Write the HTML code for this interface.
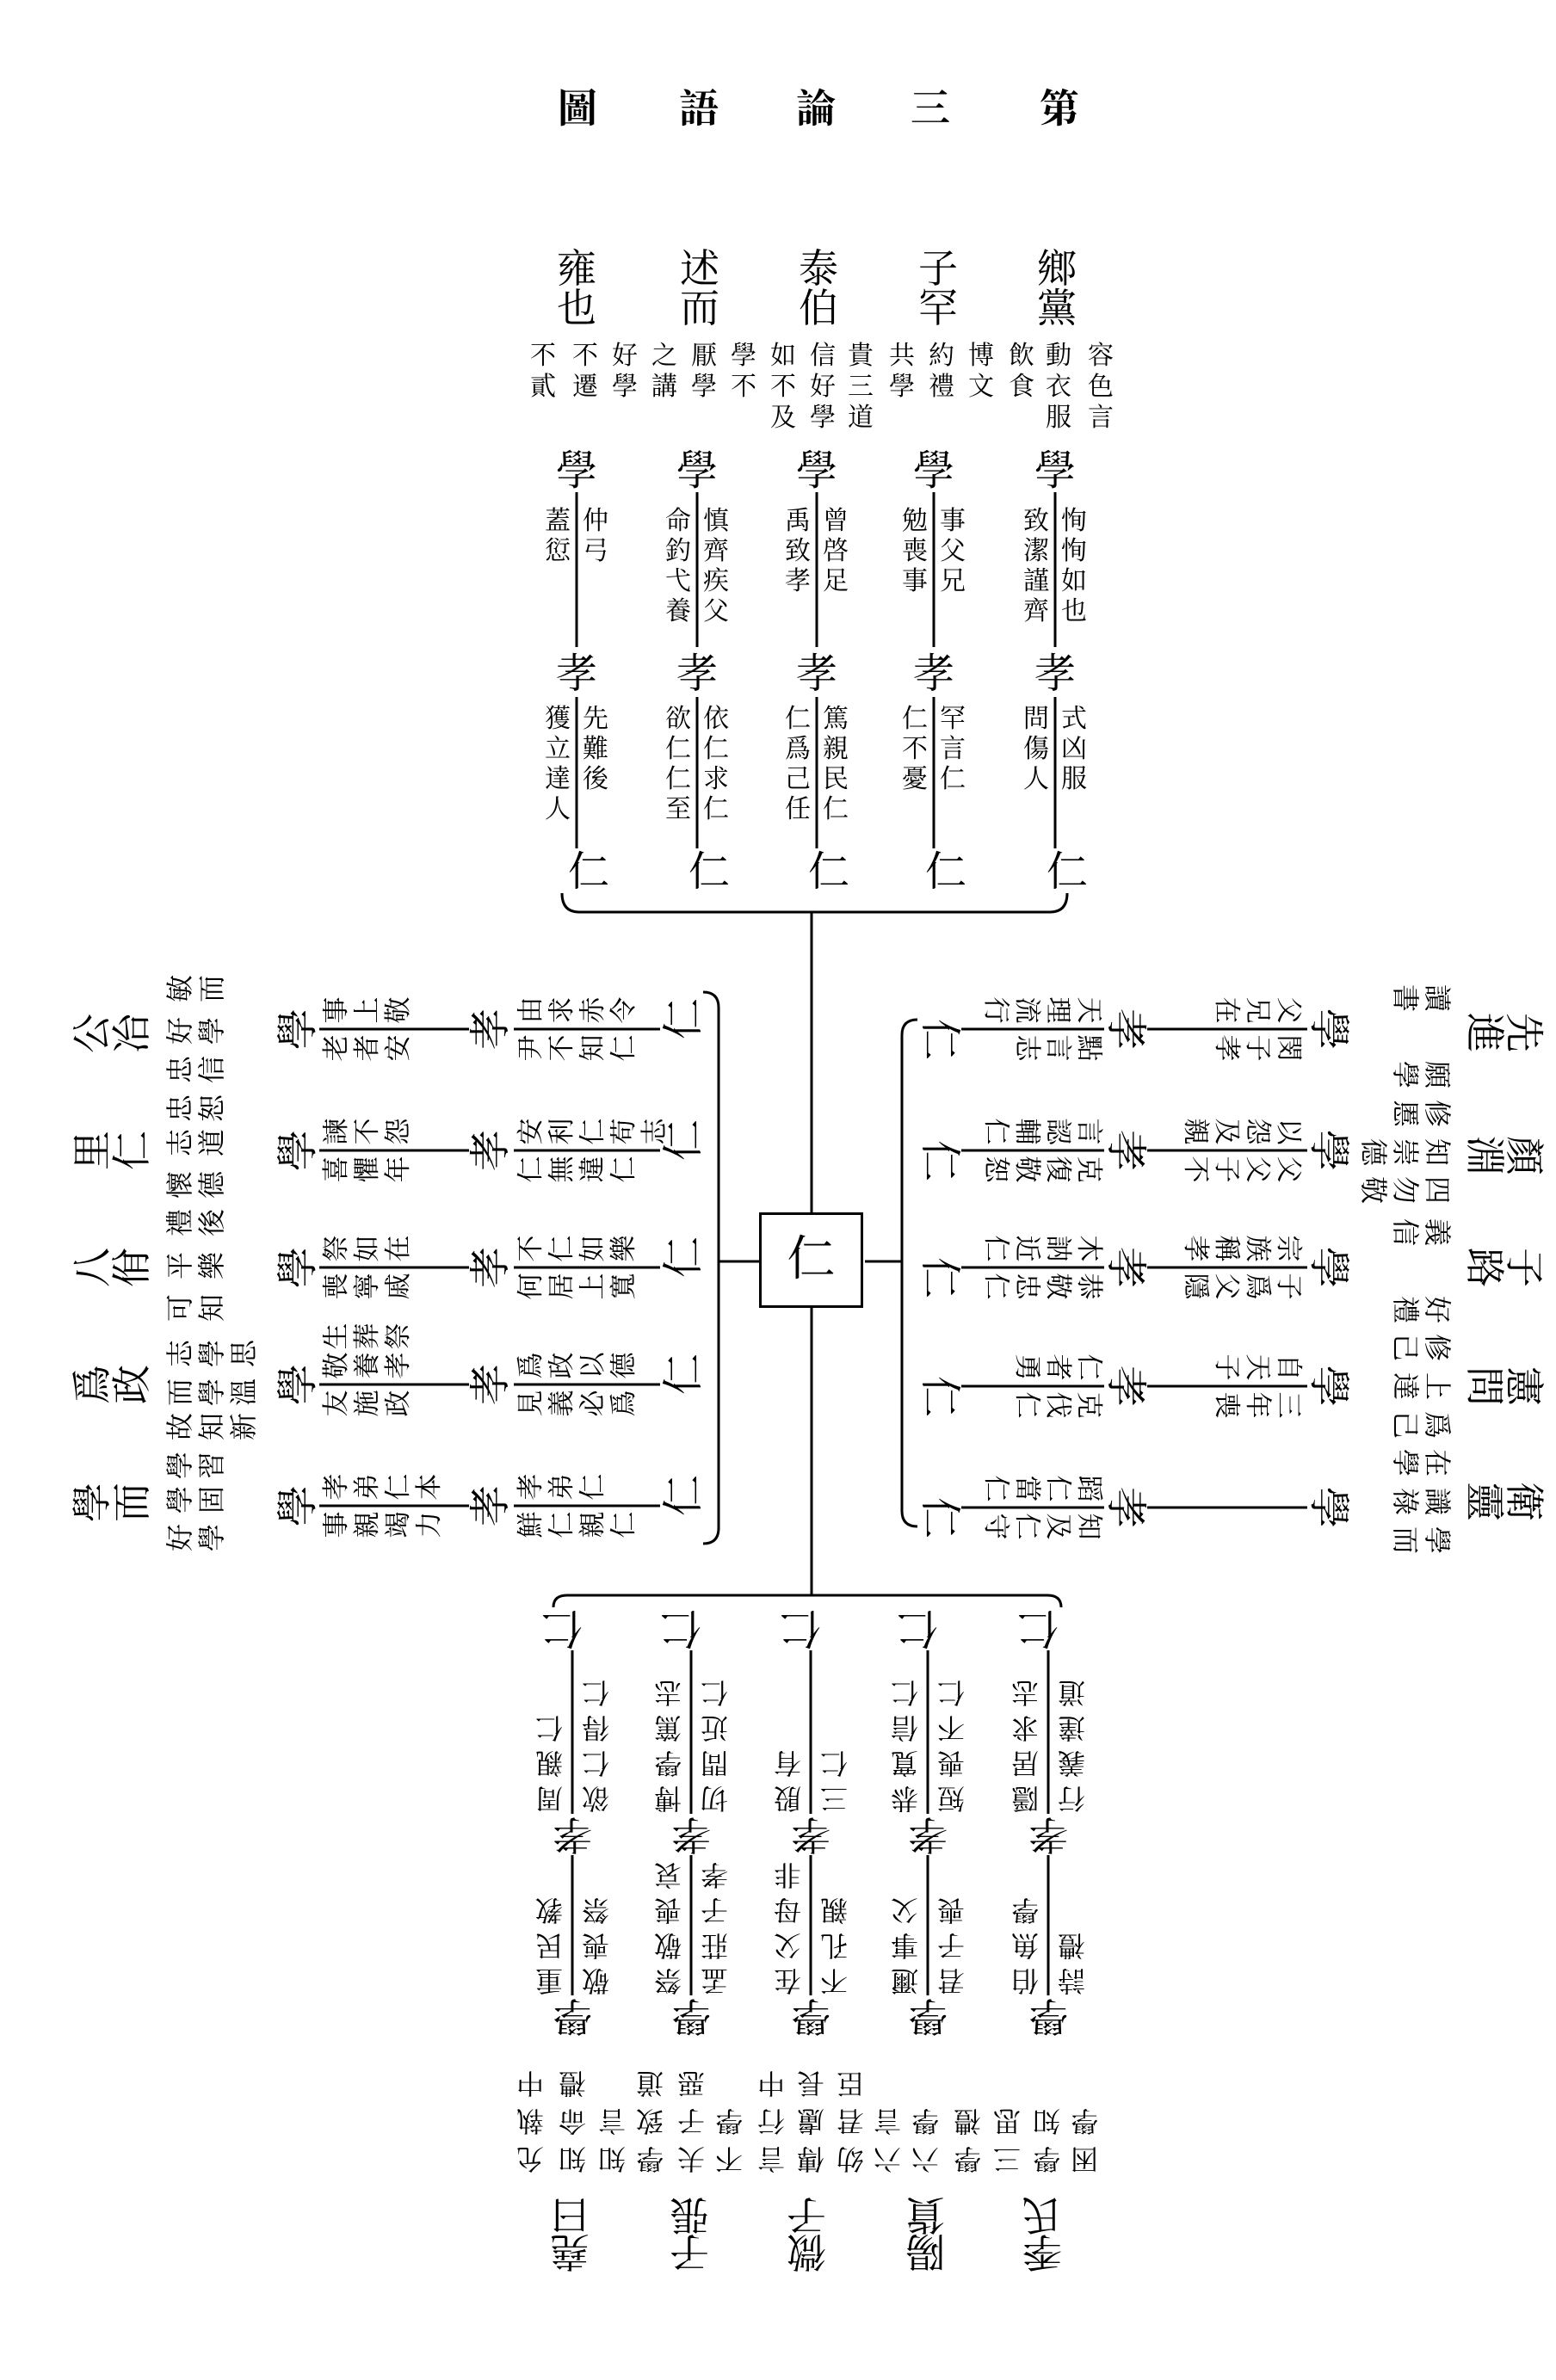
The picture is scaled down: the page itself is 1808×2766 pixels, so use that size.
<!DOCTYPE html>
<html><head><meta charset="utf-8">
<style>
html,body{margin:0;padding:0;background:#fff}
body{width:1808px;height:2766px;position:relative;overflow:hidden;font-family:"Liberation Serif","Noto Serif CJK SC","Noto Sans CJK TC",serif;color:#000}
.t{position:absolute;top:104px;font-size:46px;line-height:46px;width:60px;margin-left:-30px;text-align:center;font-weight:bold}
.arm{position:absolute;left:943px;top:1466px;width:0;height:0;transform-origin:0 0}
.arm div{position:absolute;text-align:center;width:1.2em;margin-left:-.6em;word-break:break-all;white-space:normal}
.g{position:absolute;overflow:visible}
.h{font-size:46px;line-height:46px}
.h2{font-size:46px;line-height:43px}
.n{font-size:30px;line-height:36px}
.n2{font-size:32px;line-height:37px}
.n3{font-size:32px;line-height:44px}
.k{font-size:48px;line-height:48px}
.k2{font-size:46px;line-height:46px}
.s{font-size:30px;line-height:35px}
.s2{font-size:31px;line-height:36px}
.s3{font-size:32px;line-height:41px}
#box{position:absolute;left:882px;top:1409px;width:115px;height:105px;border:3px solid #000;font-size:56px;line-height:105px;text-align:center}
</style></head><body>

<div class="t" style="left:671px">圖</div>
<div class="t" style="left:812px">語</div>
<div class="t" style="left:948px">論</div>
<div class="t" style="left:1081px">三</div>
<div class="t" style="left:1231px">第</div>

<div id="box">仁</div>

<!-- TOP ARM -->
<div class="arm" style="transform:rotate(0deg)">
<svg class="g" viewBox="-1300 -1300 2600 2600" width="2600" height="2600" style="left:-1300px;top:-1300px"><g fill="none" stroke="#000" stroke-width="3">
<path d="M-273 -894V-714M-273 -656V-480M-133 -894V-714M-133 -656V-480M6 -894V-714M6 -656V-480M142 -894V-714M142 -656V-480M283 -894V-714M283 -656V-480"/>
<path d="M-290 -428Q-290 -406 -270 -406H277Q297 -406 297 -428"/>
<path d="M0 -406V-57"/></g></svg>
<div class="h" style="left:-273px;top:-1176px">雍也</div>
<div class="h" style="left:-130px;top:-1176px">述而</div>
<div class="h" style="left:8px;top:-1176px">泰伯</div>
<div class="h" style="left:147px;top:-1176px">子罕</div>
<div class="h" style="left:285px;top:-1176px">鄉黨</div>
<div class="n" style="left:-312px;top:-1070px">不貳</div>
<div class="n" style="left:-263px;top:-1070px">不遷</div>
<div class="n" style="left:-217px;top:-1070px">好學</div>
<div class="n" style="left:-171px;top:-1070px">之講</div>
<div class="n" style="left:-125px;top:-1070px">厭學</div>
<div class="n" style="left:-79px;top:-1070px">學不</div>
<div class="n" style="left:-33px;top:-1070px">如不及</div>
<div class="n" style="left:13px;top:-1070px">信好學</div>
<div class="n" style="left:57px;top:-1070px">貴三道</div>
<div class="n" style="left:105px;top:-1070px">共學</div>
<div class="n" style="left:151px;top:-1070px">約禮</div>
<div class="n" style="left:197px;top:-1070px">博文</div>
<div class="n" style="left:244px;top:-1070px">飲食</div>
<div class="n" style="left:287px;top:-1070px">動衣服</div>
<div class="n" style="left:336px;top:-1070px">容色言</div>
<div class="k" style="left:-273px;top:-942px">學</div>
<div class="k" style="left:-133px;top:-942px">學</div>
<div class="k" style="left:6px;top:-942px">學</div>
<div class="k" style="left:142px;top:-942px">學</div>
<div class="k" style="left:283px;top:-942px">學</div>
<div class="k" style="left:-273px;top:-706px">孝</div>
<div class="k" style="left:-133px;top:-706px">孝</div>
<div class="k" style="left:6px;top:-706px">孝</div>
<div class="k" style="left:142px;top:-706px">孝</div>
<div class="k" style="left:283px;top:-706px">孝</div>
<div class="k" style="left:-259px;top:-476px">仁</div>
<div class="k" style="left:-119px;top:-476px">仁</div>
<div class="k" style="left:20px;top:-476px">仁</div>
<div class="k" style="left:156px;top:-476px">仁</div>
<div class="k" style="left:297px;top:-476px">仁</div>
<div class="s" style="left:-251px;top:-878px">仲弓</div>
<div class="s" style="left:-295px;top:-878px">蓋愆</div>
<div class="s" style="left:-251px;top:-648px">先難後</div>
<div class="s" style="left:-295px;top:-648px">獲立達人</div>
<div class="s" style="left:-111px;top:-878px">慎齊疾父</div>
<div class="s" style="left:-155px;top:-878px">命釣弋養</div>
<div class="s" style="left:-111px;top:-648px">依仁求仁</div>
<div class="s" style="left:-155px;top:-648px">欲仁仁至</div>
<div class="s" style="left:28px;top:-878px">曾啓足</div>
<div class="s" style="left:-16px;top:-878px">禹致孝</div>
<div class="s" style="left:28px;top:-648px">篤親民仁</div>
<div class="s" style="left:-16px;top:-648px">仁爲己任</div>
<div class="s" style="left:164px;top:-878px">事父兄</div>
<div class="s" style="left:120px;top:-878px">勉喪事</div>
<div class="s" style="left:164px;top:-648px">罕言仁</div>
<div class="s" style="left:120px;top:-648px">仁不憂</div>
<div class="s" style="left:305px;top:-878px">恂恂如也</div>
<div class="s" style="left:261px;top:-878px">致潔謹齊</div>
<div class="s" style="left:305px;top:-648px">式凶服</div>
<div class="s" style="left:261px;top:-648px">問傷人</div>
</div>

<!-- LEFT ARM -->
<div class="arm" style="transform:rotate(-90deg)">
<svg class="g" viewBox="-1300 -1300 2600 2600" width="2600" height="2600" style="left:-1300px;top:-1300px"><g fill="none" stroke="#000" stroke-width="3">
<path d="M-284 -572V-398M-284 -346V-176M-143 -572V-398M-143 -346V-176M-7 -572V-398M-7 -346V-176M129 -572V-398M129 -346V-176M270 -572V-398M270 -346V-176"/>
<path d="M-328 -126Q-328 -108 -310 -108H295Q313 -108 313 -126"/>
<path d="M0 -108V-61"/></g></svg>
<div class="h" style="left:-280px;top:-858px">學而</div>
<div class="h" style="left:-143px;top:-858px">爲政</div>
<div class="h" style="left:-7px;top:-858px">八佾</div>
<div class="h" style="left:129px;top:-858px">里仁</div>
<div class="h" style="left:265px;top:-858px">公冶</div>
<div class="n2" style="left:-321px;top:-752px">好學</div>
<div class="n2" style="left:-277px;top:-752px">學固</div>
<div class="n2" style="left:-237px;top:-752px">學習</div>
<div class="n2" style="left:-192px;top:-752px">故知新</div>
<div class="n2" style="left:-152px;top:-752px">而學溫</div>
<div class="n2" style="left:-107px;top:-752px">志學思</div>
<div class="n2" style="left:-54px;top:-752px">可知</div>
<div class="n2" style="left:-5px;top:-752px">平樂</div>
<div class="n2" style="left:45px;top:-752px">禮後</div>
<div class="n2" style="left:89px;top:-752px">懷德</div>
<div class="n2" style="left:138px;top:-752px">志道</div>
<div class="n2" style="left:178px;top:-752px">忠恕</div>
<div class="n2" style="left:223px;top:-752px">忠信</div>
<div class="n2" style="left:268px;top:-752px">好學</div>
<div class="n2" style="left:317px;top:-752px">敏而</div>
<div class="k" style="left:-284px;top:-620px">學</div>
<div class="k" style="left:-143px;top:-620px">學</div>
<div class="k" style="left:-7px;top:-620px">學</div>
<div class="k" style="left:129px;top:-620px">學</div>
<div class="k" style="left:270px;top:-620px">學</div>
<div class="k" style="left:-284px;top:-396px">孝</div>
<div class="k" style="left:-143px;top:-396px">孝</div>
<div class="k" style="left:-7px;top:-396px">孝</div>
<div class="k" style="left:129px;top:-396px">孝</div>
<div class="k" style="left:270px;top:-396px">孝</div>
<div class="k" style="left:-272px;top:-172px">仁</div>
<div class="k" style="left:-131px;top:-172px">仁</div>
<div class="k" style="left:5px;top:-172px">仁</div>
<div class="k" style="left:141px;top:-172px">仁</div>
<div class="k" style="left:282px;top:-172px">仁</div>
<div class="s2" style="left:-262px;top:-570px">孝弟仁本</div>
<div class="s2" style="left:-306px;top:-570px">事親竭力</div>
<div class="s2" style="left:-262px;top:-344px">孝弟仁</div>
<div class="s2" style="left:-306px;top:-344px">鮮仁親仁</div>
<div class="s2" style="left:-87px;top:-570px">生葬祭</div>
<div class="s2" style="left:-121px;top:-570px">敬養孝</div>
<div class="s2" style="left:-165px;top:-570px">友施政</div>
<div class="s2" style="left:-121px;top:-344px">爲政以德</div>
<div class="s2" style="left:-165px;top:-344px">見義必爲</div>
<div class="s2" style="left:15px;top:-570px">祭如在</div>
<div class="s2" style="left:-29px;top:-570px">喪寧戚</div>
<div class="s2" style="left:15px;top:-344px">不仁如樂</div>
<div class="s2" style="left:-29px;top:-344px">何居上寬</div>
<div class="s2" style="left:151px;top:-570px">諫不怨</div>
<div class="s2" style="left:107px;top:-570px">喜懼年</div>
<div class="s2" style="left:151px;top:-344px">安利仁苟志</div>
<div class="s2" style="left:107px;top:-344px">仁無違仁</div>
<div class="s2" style="left:292px;top:-570px">事上敬</div>
<div class="s2" style="left:248px;top:-570px">老者安</div>
<div class="s2" style="left:292px;top:-344px">由求赤令</div>
<div class="s2" style="left:248px;top:-344px">尹不知仁</div>
</div>

<!-- RIGHT ARM -->
<div class="arm" style="transform:rotate(90deg)">
<svg class="g" viewBox="-1300 -1300 2600 2600" width="2600" height="2600" style="left:-1300px;top:-1300px"><g fill="none" stroke="#000" stroke-width="3">
<path d="M-270 -576V-390M-270 -340V-174M-129 -576V-390M-129 -340V-174M7 -576V-390M7 -340V-174M145 -576V-390M145 -340V-174M286 -576V-390M286 -340V-174"/>
<path d="M-281 -123Q-281 -105 -263 -105H290Q308 -105 308 -123"/>
<path d="M0 -105V-62"/></g></svg>
<div class="h" style="left:-266px;top:-850px">先進</div>
<div class="h" style="left:-123px;top:-850px">顏淵</div>
<div class="h" style="left:7px;top:-850px">子路</div>
<div class="h" style="left:145px;top:-850px">憲問</div>
<div class="h" style="left:279px;top:-850px">衛靈</div>
<div class="n2" style="left:-306px;top:-745px">讀書</div>
<div class="n2" style="left:-217px;top:-745px">願學</div>
<div class="n2" style="left:-172px;top:-745px">修慝</div>
<div class="n2" style="left:-127px;top:-745px">知崇德</div>
<div class="n2" style="left:-83px;top:-745px">四勿敬</div>
<div class="n2" style="left:-34px;top:-745px">義信</div>
<div class="n2" style="left:56px;top:-745px">好禮</div>
<div class="n2" style="left:100px;top:-745px">修己</div>
<div class="n2" style="left:145px;top:-745px">上達</div>
<div class="n2" style="left:190px;top:-745px">爲己</div>
<div class="n2" style="left:234px;top:-745px">在學</div>
<div class="n2" style="left:279px;top:-745px">識祿</div>
<div class="n2" style="left:324px;top:-745px">學而</div>
<div class="k" style="left:-270px;top:-624px">學</div>
<div class="k" style="left:-129px;top:-624px">學</div>
<div class="k" style="left:7px;top:-624px">學</div>
<div class="k" style="left:145px;top:-624px">學</div>
<div class="k" style="left:286px;top:-624px">學</div>
<div class="k" style="left:-270px;top:-388px">孝</div>
<div class="k" style="left:-129px;top:-388px">孝</div>
<div class="k" style="left:7px;top:-388px">孝</div>
<div class="k" style="left:145px;top:-388px">孝</div>
<div class="k" style="left:286px;top:-388px">孝</div>
<div class="k" style="left:-258px;top:-172px">仁</div>
<div class="k" style="left:-117px;top:-172px">仁</div>
<div class="k" style="left:19px;top:-172px">仁</div>
<div class="k" style="left:157px;top:-172px">仁</div>
<div class="k" style="left:298px;top:-172px">仁</div>
<div class="s2" style="left:-248px;top:-572px">閔子孝</div>
<div class="s2" style="left:-292px;top:-572px">父兄在</div>
<div class="s2" style="left:-248px;top:-340px">點言志</div>
<div class="s2" style="left:-292px;top:-340px">天理流行</div>
<div class="s2" style="left:-107px;top:-572px">父父子不</div>
<div class="s2" style="left:-151px;top:-572px">以怨及親</div>
<div class="s2" style="left:-107px;top:-340px">克復敬恕</div>
<div class="s2" style="left:-151px;top:-340px">言認輔仁</div>
<div class="s2" style="left:29px;top:-572px">子爲父隱</div>
<div class="s2" style="left:-15px;top:-572px">宗族稱孝</div>
<div class="s2" style="left:29px;top:-340px">恭敬忠仁</div>
<div class="s2" style="left:-15px;top:-340px">木訥近仁</div>
<div class="s2" style="left:167px;top:-572px">三年喪</div>
<div class="s2" style="left:123px;top:-572px">自天子</div>
<div class="s2" style="left:167px;top:-340px">克伐仁</div>
<div class="s2" style="left:123px;top:-340px">仁者勇</div>
<div class="s2" style="left:308px;top:-340px">知及仁守</div>
<div class="s2" style="left:264px;top:-340px">蹈仁當仁</div>
</div>

<!-- BOTTOM ARM -->
<div class="arm" style="transform:rotate(180deg)">
<svg class="g" viewBox="-1300 -1300 2600 2600" width="2600" height="2600" style="left:-1300px;top:-1300px"><g fill="none" stroke="#000" stroke-width="3">
<path d="M-275 -853V-690M-275 -642V-452M-135 -853V-690M-135 -642V-452M1 -853V-690M1 -642V-452M140 -853V-690M140 -642V-452M278 -853V-690M278 -642V-452"/>
<path d="M-290 -402Q-290 -388 -274 -388H284Q300 -388 300 -402"/>
<path d="M0 -388V-54"/></g></svg>
<div class="h2" style="left:-268px;top:-1172px">季氏</div>
<div class="h2" style="left:-132px;top:-1172px">陽貨</div>
<div class="h2" style="left:6px;top:-1172px">微子</div>
<div class="h2" style="left:142px;top:-1172px">子張</div>
<div class="h2" style="left:281px;top:-1172px">堯曰</div>
<div class="n3" style="left:-317px;top:-1065px">困學</div>
<div class="n3" style="left:-273px;top:-1065px">學知</div>
<div class="n3" style="left:-227px;top:-1065px">三思</div>
<div class="n3" style="left:-181px;top:-1065px">學禮</div>
<div class="n3" style="left:-132px;top:-1065px">六學</div>
<div class="n3" style="left:-88px;top:-1065px">六言</div>
<div class="n3" style="left:-45px;top:-1065px">幼君臣</div>
<div class="n3" style="left:1px;top:-1065px">傳慮長</div>
<div class="n3" style="left:47px;top:-1065px">言行中</div>
<div class="n3" style="left:96px;top:-1065px">不學</div>
<div class="n3" style="left:140px;top:-1065px">夫子惡</div>
<div class="n3" style="left:188px;top:-1065px">學致道</div>
<div class="n3" style="left:232px;top:-1065px">知言</div>
<div class="n3" style="left:278px;top:-1065px">知命禮</div>
<div class="n3" style="left:327px;top:-1065px">允執中</div>
<div class="k2" style="left:-275px;top:-899px">學</div>
<div class="k2" style="left:-135px;top:-899px">學</div>
<div class="k2" style="left:1px;top:-899px">學</div>
<div class="k2" style="left:140px;top:-899px">學</div>
<div class="k2" style="left:278px;top:-899px">學</div>
<div class="k2" style="left:-275px;top:-688px">孝</div>
<div class="k2" style="left:-135px;top:-688px">孝</div>
<div class="k2" style="left:1px;top:-688px">孝</div>
<div class="k2" style="left:140px;top:-688px">孝</div>
<div class="k2" style="left:278px;top:-688px">孝</div>
<div class="k" style="left:-263px;top:-449px">仁</div>
<div class="k" style="left:-123px;top:-449px">仁</div>
<div class="k" style="left:13px;top:-449px">仁</div>
<div class="k" style="left:152px;top:-449px">仁</div>
<div class="k" style="left:290px;top:-449px">仁</div>
<div class="s3" style="left:-248px;top:-856px">伯魚學</div>
<div class="s3" style="left:-302px;top:-856px">詩禮</div>
<div class="s3" style="left:-248px;top:-644px">隱居求志</div>
<div class="s3" style="left:-302px;top:-644px">行義達道</div>
<div class="s3" style="left:-108px;top:-856px">邇事父</div>
<div class="s3" style="left:-162px;top:-856px">君子喪</div>
<div class="s3" style="left:-108px;top:-644px">恭寬信仁</div>
<div class="s3" style="left:-162px;top:-644px">短喪不仁</div>
<div class="s3" style="left:28px;top:-856px">在父母非</div>
<div class="s3" style="left:-26px;top:-856px">不孔親</div>
<div class="s3" style="left:28px;top:-644px">殷有</div>
<div class="s3" style="left:-26px;top:-644px">三仁</div>
<div class="s3" style="left:167px;top:-856px">祭敬喪哀</div>
<div class="s3" style="left:113px;top:-856px">孟莊子孝</div>
<div class="s3" style="left:167px;top:-644px">博學篤志</div>
<div class="s3" style="left:113px;top:-644px">切問近仁</div>
<div class="s3" style="left:305px;top:-856px">重民教</div>
<div class="s3" style="left:251px;top:-856px">敬喪祭</div>
<div class="s3" style="left:305px;top:-644px">周親仁</div>
<div class="s3" style="left:251px;top:-644px">欲仁得仁</div>
</div>

</body></html>
